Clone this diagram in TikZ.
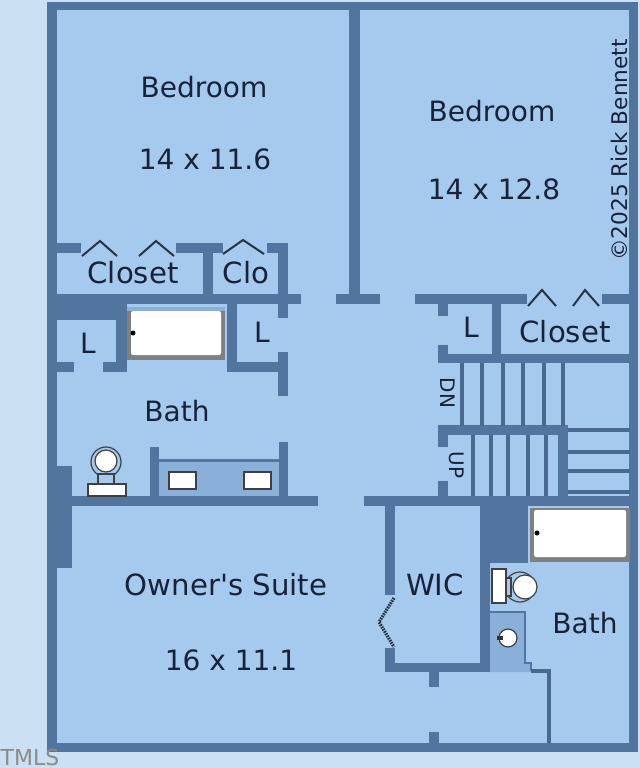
\documentclass[tikz,border=0pt]{standalone}
\usepackage{fontspec}
\setmainfont{DejaVu Sans}
\definecolor{bgblue}{HTML}{CBE0F2}
\definecolor{floorblue}{HTML}{A6C9EE}
\definecolor{wallblue}{HTML}{52759F}
\definecolor{counterblue}{HTML}{8AAFD8}
\definecolor{labelblue}{HTML}{16233A}
\tikzset{
	wall/.style={fill=wallblue},
	stairline/.style={draw=wallblue!90!black, line width=1.6pt},
	doorline/.style={draw=wallblue!45!black, line width=1pt},
	fixture/.style={draw=black!75, fill=white, line width=.6pt},
	room/.style={text=labelblue, font=\fontsize{14}{16}\selectfont, inner sep=0pt},
	closet room/.style={room, font=\fontsize{14.6}{16}\selectfont},
	tiny room/.style={text=labelblue, font=\fontsize{10}{12}\selectfont, inner sep=0pt},
}
\begin{document}
\begin{tikzpicture}[x=.5pt, y=-.5pt]
		\useasboundingbox (0,0) rectangle (640,768);
		\fill[bgblue] (0,0) rectangle (640,768);
		\fill[floorblue] (47,2) rectangle (638,752);
		% counters
		\fill[counterblue] (159,460) rectangle (279,496);
		\fill[wallblue] (159,459) rectangle (279,462);
		\fill[counterblue] (490,612) -- (525,612) -- (525,663) -- (531,663) -- (531,672) -- (490,672) -- cycle;
		\draw[wallblue, line width=.8pt] (490,612) -- (525,612) -- (525,663) -- (531,663) -- (531,671);
		% walls, left top right bottom
		\foreach \xa/\ya/\xb/\yb in {
			47/2/638/10, 47/2/57/752, 629/2/638/752, 47/743/638/752, % outer
			349/10/360/304, 336/294/380/304, % between bedrooms
			57/243/81/253, 176/243/223/253, 267/243/288/253, 203/243/213/295, 278/243/288/318,
			47/294/301/304, 57/304/127/320, 116/304/127/372, 57/362/74/372, 103/362/127/372,
			227/304/237/372, 227/362/288/372, 278/352/288/396,
			47/496/318/506, 57/466/72/568, 150/447/159/496, 279/442/288/496,
			415/294/527/304, 602/294/630/304, 438/304/448/316, 438/345/448/363, 492/304/501/355,
			438/354/630/363, 438/425/567/435, 438/435/448/447, 438/481/448/496, 558/425/568/496,
			364/496/630/506, % owner's suite side
			385/506/395/595, 385/648/395/672, 385/663/490/672, 480/506/490/672, 480/506/528/563,
			429/672/439/687, 429/732/439/743
		}
			\fill[wall] (\xa,\ya) rectangle (\xb,\yb);
		% stairs
		\foreach \xs in {462,482,503,523,544,563}
			\draw[stairline] (\xs,363) -- (\xs,426);
		\foreach \xs in {473,491,508,528,546}
			\draw[stairline] (\xs,435) -- (\xs,496);
		\foreach \ys in {430,452,471,492}
			\draw[stairline] (568,\ys) -- (630,\ys);
		\draw[stairline] (531,671) -- (549,671) -- (549,743);
		% closet doors
		\foreach \xa/\xm/\xb/\ya/\ym in {
			82/100/117/256/241, 139/156/174/256/241, 223/243/264/254/240,
			528/542/556/306/290, 573/585/599/306/290
		}
			\draw[doorline] (\xa,\ya) -- (\xm,\ym) -- (\xb,\ya);
		\draw[doorline, line width=1.6pt, dash pattern=on .8pt off .5pt] (394,598) -- (379,622) -- (394,647);
		% tubs
		\fill[black!50] (127,307) rectangle (225,360);
		\fill[counterblue] (127,307) rectangle (225,311);
		\fill[white, rounded corners=1pt] (131,311) rectangle (221,355);
		\fill[black] (133,333) circle (2.5);
		\fill[black!50] (530,508) rectangle (630,562);
		\fill[white, rounded corners=1pt] (534,510) rectangle (626,557);
		\fill[black] (537,533) circle (2.5);
		% sinks
		\draw[fixture] (169,472) rectangle (196,489);
		\draw[fixture] (244,472) rectangle (271,489);
		\draw[fixture] (508,638) circle (9);
		\fill[black!80] (497,636) rectangle (503,640);
		% toilets
		\draw[fixture, fill=floorblue] (106,462) circle (15);
		\draw[fixture] (106,461) circle (11);
		\draw[fixture, fill=floorblue] (98,474) rectangle (114,484);
		\draw[fixture] (88,484) rectangle (126,496);
		\draw[fixture, fill=floorblue] (520,587) circle (15);
		\draw[fixture] (525,587) circle (12);
		\draw[fixture, fill=floorblue] (506,578) rectangle (511,596);
		\draw[fixture] (492,569) rectangle (506,603);
		% labels
		\node[room] (bedroomleft) at (204,87) {Bedroom};
		\node[room] (sizeleft) at (205,159) {14 x 11.6};
		\node[room] (bedroomright) at (492,111) {Bedroom};
		\node[room] (sizeright) at (494,189) {14 x 12.8};
		\node[closet room] (closetleft) at (133,273) {Closet};
		\node[closet room] (clo) at (246,273) {Clo};
		\node[closet room] (closetright) at (565,332) {Closet};
		\node[room] (linenleft) at (88,343) {L};
		\node[room] (linenmid) at (262,332) {L};
		\node[room] (linenright) at (471,327) {L};
		\node[room] (bathleft) at (177,411) {Bath};
		\node[closet room] (suite) at (226,585) {Owner\textquotesingle s Suite};
		\node[room] (sizesuite) at (231,660) {16 x 11.1};
		\node[closet room] (wic) at (435,585) {WIC};
		\node[room] (bathright) at (585,623) {Bath};
		\node[tiny room, rotate=-90] (down) at (448,393) {DN};
		\node[tiny room, rotate=-90] (up) at (457,465) {UP};
		\node[room, rotate=90, font=\fontsize{10.8}{13}\selectfont] (credit) at (619,150) {©2025 Rick Bennett};
		\node[text=black!45, inner sep=0pt, font=\fontsize{11}{13}\selectfont] (mls) at (30,757) {TMLS};
		\end{tikzpicture}
\end{document}
